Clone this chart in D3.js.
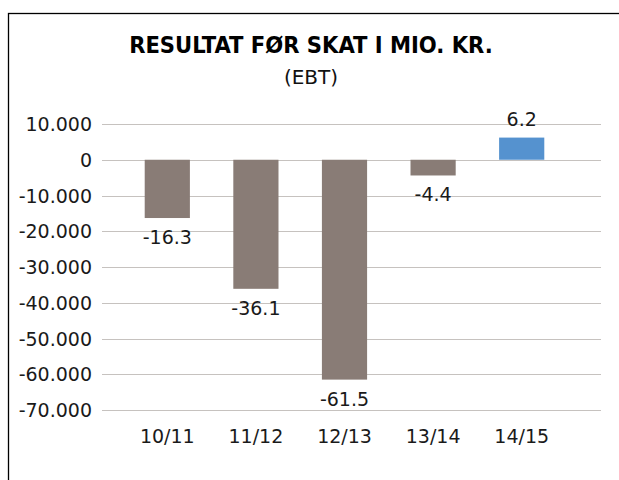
<!DOCTYPE html>
<html>
<head>
<meta charset="utf-8">
<script src="https://cdn.jsdelivr.net/npm/d3@7"></script>
<style>
  html, body { margin: 0; padding: 0; background: #fff; }
  svg { display: block; }
</style>
</head>
<body>
<div id="chart"></div>
<script>
'use strict';

const seasons = ['10/11', '11/12', '12/13', '13/14', '14/15'];
const ebt = [-16300, -36100, -61500, -4400, 6200];
const barLabels = ['-16.3', '-36.1', '-61.5', '-4.4', '6.2'];
const yTicks = [10000, 0, -10000, -20000, -30000, -40000, -50000, -60000, -70000];

const width = 619,
    height = 480;

const svg = d3.select('#chart')
  .append('svg')
    .attr('width', width)
    .attr('height', height);

// frame of the chart area, runs off the right and bottom edge
svg.append('rect')
  .attr('x', 8.5)
  .attr('y', 13.5)
  .attr('width', 640)
  .attr('height', 500)
  .attr('fill', 'none')
  .attr('stroke', '#000')
  .attr('stroke-width', 1.3);

svg.append('text')
  .attr('x', 311)
  .attr('y', 53)
  .attr('text-anchor', 'middle')
  .style('font-family', '"DejaVu Sans Condensed", "DejaVu Sans", sans-serif')
  .style('font-stretch', 'condensed')
  .style('font-weight', 'bold')
  .style('font-size', '23.5px')
  .attr('fill', '#000')
  .text('RESULTAT FØR SKAT I MIO. KR.');

svg.append('text')
  .attr('x', 311)
  .attr('y', 84)
  .attr('text-anchor', 'middle')
  .style('font-family', '"DejaVu Sans", sans-serif')
  .style('font-size', '20px')
  .attr('fill', '#111')
  .text('(EBT)');

let y = d3.scaleLinear()
    .domain([-70000, 10000])
    .range([410, 124]);

let x = d3.scaleBand()
    .domain(seasons)
    .range([123, 566])
    .paddingInner(0.49)
    .paddingOuter(0.245);

const gridLeft = 102,
    gridRight = 601;

// gridlines
svg.append('g')
  .selectAll('line')
  .data(yTicks)
  .enter().append('line')
    .attr('x1', gridLeft)
    .attr('x2', gridRight)
    .attr('y1', d => Math.round(y(d)) + 0.5)
    .attr('y2', d => Math.round(y(d)) + 0.5)
    .attr('stroke', '#c6c2bf')
    .attr('stroke-width', 1.2);

// y axis labels
let yAxis = d3.axisLeft(y)
    .tickValues(yTicks)
    .tickSize(0)
    .tickPadding(0)
    .tickFormat(d => d3.format(',')(d).replace(/,/g, '.').replace('−', '-'));

svg.append('g')
  .attr('transform', 'translate(92,0)')
  .call(yAxis)
  .call(g => g.select('.domain').remove())
  .call(g => g.selectAll('text')
    .style('font-family', '"DejaVu Sans", sans-serif')
    .style('font-size', '19px')
    .attr('fill', '#1a1a1a')
    .attr('dy', '0.35em'));

// bars
svg.append('g')
  .selectAll('rect')
  .data(ebt)
  .enter().append('rect')
    .attr('x', (d, i) => x(seasons[i]))
    .attr('width', x.bandwidth())
    .attr('y', d => y(Math.max(0, d)))
    .attr('height', d => Math.abs(y(d) - y(0)))
    .attr('fill', d => d >= 0 ? '#5592cf' : '#897c76');

// value labels
svg.append('g')
  .selectAll('text')
  .data(ebt)
  .enter().append('text')
    .attr('x', (d, i) => x(seasons[i]) + x.bandwidth() / 2)
    .attr('y', d => d >= 0 ? y(d) - 11.5 : y(d) + 26)
    .attr('text-anchor', 'middle')
    .style('font-family', '"DejaVu Sans", sans-serif')
    .style('font-size', '19px')
    .attr('fill', '#1a1a1a')
    .text((d, i) => barLabels[i]);

// category labels
let xAxis = d3.axisBottom(x)
    .tickSize(0)
    .tickPadding(0);

svg.append('g')
  .attr('transform', 'translate(0,443)')
  .call(xAxis)
  .call(g => g.select('.domain').remove())
  .call(g => g.selectAll('text')
    .attr('y', 0)
    .attr('dy', 0)
    .style('font-family', '"DejaVu Sans", sans-serif')
    .style('font-size', '19px')
    .attr('fill', '#1a1a1a'));
</script>
</body>
</html>
